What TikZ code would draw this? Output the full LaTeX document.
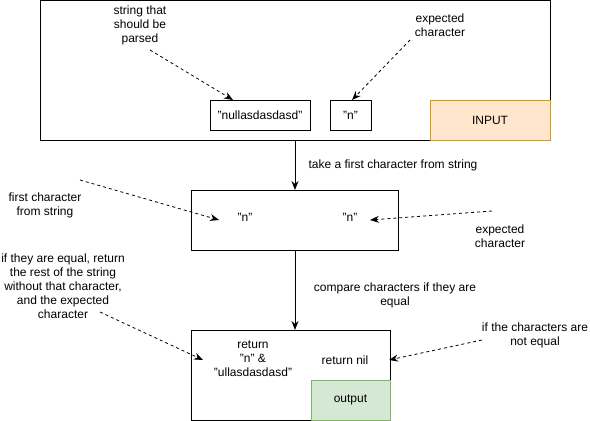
\documentclass[tikz,border=0pt]{standalone}
\usepackage{fontspec}
\setmainfont{Liberation Sans}
\usetikzlibrary{arrows.meta}
\definecolor{inputfill}{HTML}{FFE6CC}
\definecolor{inputdraw}{HTML}{D79B00}
\definecolor{outfill}{HTML}{D5E8D4}
\definecolor{outdraw}{HTML}{82B366}
\begin{document}
\begin{tikzpicture}[x=1pt,y=-1pt,
  every node/.style={font=\fontsize{12}{14}\selectfont, inner sep=0pt, outer sep=0pt},
  lbl/.style={align=center},
  box/.style={draw=black, line width=1pt},
  flow/.style={draw=black, line width=1pt, -{Stealth[length=9pt,width=7pt]}},
  note/.style={draw=black, line width=0.8pt, dash pattern=on 3pt off 3pt, -{Stealth[length=9pt,width=7pt]}}]
\useasboundingbox (0,0) rectangle (590,421);
% boxes
\draw[box] (40,0.5) rectangle (550,140);
\node[box, minimum width=100pt, minimum height=30pt] (str) at (260,115) {"nullasdasdasd"};
\node[box, minimum width=41pt, minimum height=30pt] (exp) at (350.5,115) {"n"};
\node[draw=inputdraw, fill=inputfill, line width=1pt, minimum width=120pt, minimum height=40pt] (input) at (490,120) {INPUT};
\coordinate (topbot) at (295,140);
\draw[box] (191,190) rectangle (398,250);
\coordinate (midtop) at (295,190);
\coordinate (midbot) at (295,250);
\draw[box] (191,330) rectangle (390,420);
\coordinate (bottop) at (295,330);
\node[draw=outdraw, fill=outfill, line width=1pt, minimum width=79pt, minimum height=40pt] (out) at (350.5,400) {output};
% texts
\node[lbl] (t1) at (140,25) {string that\\should be\\parsed};
\node[lbl] (t2) at (440,25) {expected\\character};
\node[lbl] (t3) at (393,165) {take a first character from string};
\node (n1) at (245,217) {"n"};
\node (n2) at (350,217) {"n"};
\node[lbl] (t4) at (45,205) {first character\\from string};
\node[lbl] (t5) at (500,236) {expected\\character};
\node[lbl] (t6) at (395,295) {compare characters if they are\\equal};
\node[lbl] (t7) at (63,286) {if they are equal, return\\the rest of the string\\without that character,\\and the expected\\character};
\node[lbl] (r1) at (253,359) {return\\"n" \&\\"ullasdasdasd"};
\node (r2) at (345,360) {return nil};
\node[lbl] (t8) at (535,335) {if the characters are\\not equal};
% flow arrows
\draw[flow] (topbot) -- (midtop);
\draw[flow] (midbot) -- (bottop);
% note arrows
\coordinate (a1s) at (150,50); \coordinate (a1e) at (233,100);
\draw[note] (a1s) -- (a1e);
\coordinate (a2s) at (410,40); \coordinate (a2e) at (352,100);
\draw[note] (a2s) -- (a2e);
\coordinate (a3s) at (80,180); \coordinate (a3e) at (219,220);
\draw[note] (a3s) -- (a3e);
\coordinate (a4s) at (492,211); \coordinate (a4e) at (370,220);
\draw[note] (a4s) -- (a4e);
\coordinate (a5s) at (100,312); \coordinate (a5e) at (203,360);
\draw[note] (a5s) -- (a5e);
\coordinate (a6s) at (482,340); \coordinate (a6e) at (389,360);
\draw[note] (a6s) -- (a6e);
\end{tikzpicture}
\end{document}
